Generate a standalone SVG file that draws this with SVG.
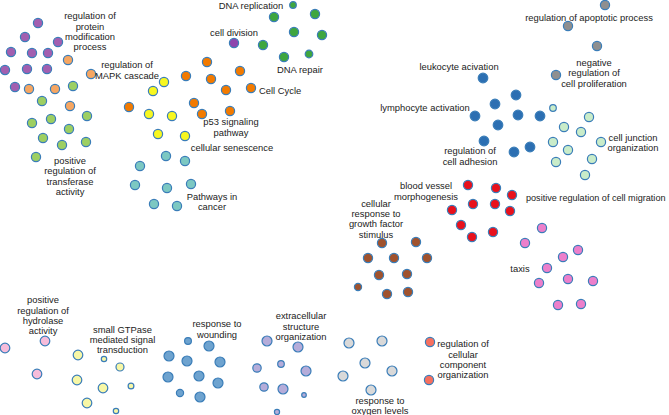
<svg xmlns="http://www.w3.org/2000/svg" width="669" height="415" viewBox="0 0 669 415">
<style>
circle{stroke:#3a7db8;stroke-width:1.2}
text{font-family:"Liberation Sans",Arial,sans-serif;font-size:9.4px;fill:#222;text-anchor:middle}
.l{text-anchor:start}
.purple{fill:#a25fb0}.sand{fill:#f6a662}.lgreen{fill:#9dcf62}.green{fill:#3fa63f}.cdiv{fill:#8e44ad}
.orange{fill:#f27a00}.yellow{fill:#f7f720}.teal{fill:#7cc8c2}.gray{fill:#8f8f8f}.blue{fill:#2c6fb2}
.pgreen{fill:#c9ecc9}.red{fill:#e8111c}.brown{fill:#a0522d}.pink{fill:#ec7fcb}.lpink{fill:#f6bcda}
.lyellow{fill:#f7f7a6}.sblue{fill:#6ea3cf}.lav{fill:#b5acd9}.lgray{fill:#d9d9d9}.salmon{fill:#f7705f}
</style>
<rect width="669" height="415" fill="#fff"/>
<g id="connectors"/>
<g id="protein-modification">
<circle class="purple" cx="38" cy="23" r="4.6"/><circle class="purple" cx="25" cy="37" r="4.6"/><circle class="purple" cx="58" cy="42" r="4.6"/><circle class="purple" cx="11" cy="52" r="4.6"/><circle class="purple" cx="32" cy="53" r="4.6"/><circle class="purple" cx="48" cy="53" r="4.6"/><circle class="purple" cx="5" cy="70" r="4.6"/><circle class="purple" cx="27" cy="69" r="4.6"/><circle class="purple" cx="47" cy="69" r="4.6"/><circle class="purple" cx="15" cy="87" r="4.6"/>
<text x="90" y="19.3">regulation of</text><text x="90" y="29.6">protein</text><text x="90" y="39.9">modification</text><text x="90" y="50.2">process</text>
</g>
<g id="mapk-cascade">
<circle class="sand" cx="68" cy="60" r="4.6"/><circle class="sand" cx="91" cy="74" r="4.6"/><circle class="sand" cx="29" cy="89" r="4.6"/><circle class="sand" cx="55" cy="89" r="4.6"/><circle class="sand" cx="70" cy="106" r="4.6"/>
<text x="127" y="68.3">regulation of</text><text x="127" y="78.6">MAPK cascade</text>
</g>
<g id="transferase-activity">
<circle class="lgreen" cx="73" cy="86" r="4.6"/><circle class="lgreen" cx="42" cy="101" r="4.6"/><circle class="lgreen" cx="32" cy="123" r="4.6"/><circle class="lgreen" cx="51" cy="119" r="4.6"/><circle class="lgreen" cx="87" cy="116" r="4.6"/><circle class="lgreen" cx="69" cy="129" r="4.6"/><circle class="lgreen" cx="43" cy="138" r="4.6"/><circle class="lgreen" cx="62" cy="145" r="4.6"/><circle class="lgreen" cx="86" cy="142" r="4.6"/><circle class="lgreen" cx="36" cy="157" r="4.6"/>
<text x="70" y="164">positive</text><text x="70" y="174.3">regulation of</text><text x="70" y="184.6">transferase</text><text x="70" y="194.9">activity</text>
</g>
<g id="dna-replication">
<circle class="green" cx="293" cy="5" r="3.3"/><circle class="green" cx="274" cy="17" r="4.6"/><circle class="green" cx="315" cy="14" r="4.6"/><circle class="green" cx="294" cy="32" r="4.6"/><circle class="green" cx="322" cy="35" r="4.6"/><circle class="green" cx="263" cy="45" r="4.6"/><circle class="green" cx="284" cy="57" r="4.6"/><circle class="green" cx="309" cy="54" r="3.8"/>
<text x="251" y="8.5">DNA replication</text><text x="300" y="73.3">DNA repair</text>
</g>
<g id="cell-division">
<circle class="cdiv" cx="234" cy="43" r="4.6"/>
<text x="234" y="35.6">cell division</text>
</g>
<g id="cell-cycle">
<circle class="orange" cx="207" cy="62" r="4.6"/><circle class="orange" cx="240" cy="71" r="4.6"/><circle class="orange" cx="186" cy="76" r="4.6"/><circle class="orange" cx="211" cy="79" r="4.6"/><circle class="orange" cx="226" cy="90" r="4.6"/><circle class="orange" cx="251" cy="88" r="4.6"/><circle class="orange" cx="129" cy="107" r="4.6"/><circle class="orange" cx="194" cy="103" r="4.6"/><circle class="orange" cx="202" cy="114" r="4.6"/><circle class="orange" cx="230" cy="111" r="4.6"/>
<text class="l" x="259" y="94.3">Cell Cycle</text>
<text x="231" y="125.3">p53 signaling</text><text x="231" y="135.6">pathway</text>
</g>
<g id="cellular-senescence">
<circle class="yellow" cx="164" cy="82" r="4.6"/><circle class="yellow" cx="153" cy="91" r="4.6"/><circle class="yellow" cx="149" cy="114" r="4.6"/><circle class="yellow" cx="172" cy="116" r="4.6"/><circle class="yellow" cx="158" cy="134" r="4.6"/><circle class="yellow" cx="185" cy="136" r="4.6"/>
<text x="232" y="150.8">cellular senescence</text>
</g>
<g id="pathways-in-cancer">
<circle class="teal" cx="166" cy="156" r="4.6"/><circle class="teal" cx="185" cy="161" r="4.6"/><circle class="teal" cx="140" cy="166" r="4.6"/><circle class="teal" cx="135" cy="185" r="4.6"/><circle class="teal" cx="167" cy="188" r="4.6"/><circle class="teal" cx="191" cy="184" r="4.6"/><circle class="teal" cx="154" cy="204" r="4.6"/><circle class="teal" cx="177" cy="206" r="4.6"/>
<text x="212" y="200">Pathways in</text><text x="212" y="210.3">cancer</text>
</g>
<g id="apoptotic-process">
<circle class="gray" cx="605" cy="5" r="4.6"/><circle class="gray" cx="568" cy="26" r="4.6"/><circle class="gray" cx="597" cy="46" r="4.6"/><circle class="gray" cx="556" cy="75" r="4.6"/>
<text x="589" y="20.6">regulation of apoptotic process</text>
<text x="594" y="66">negative</text><text x="594" y="76.3">regulation of</text><text x="594" y="86.6">cell proliferation</text>
</g>
<g id="leukocyte-activation">
<circle class="blue" cx="483" cy="78" r="4.8"/><circle class="blue" cx="516" cy="95" r="4.8"/><circle class="blue" cx="495" cy="104" r="4.8"/><circle class="blue" cx="475" cy="116" r="4.8"/><circle class="blue" cx="518" cy="115" r="4.8"/><circle class="blue" cx="540" cy="116" r="4.8"/><circle class="blue" cx="498" cy="125" r="4.8"/><circle class="blue" cx="484" cy="141" r="4.8"/><circle class="blue" cx="530" cy="147" r="4.8"/><circle class="blue" cx="514" cy="152" r="4.8"/>
<text x="459" y="70">leukocyte acivation</text><text x="425" y="110.6">lymphocyte activation</text>
<text x="470" y="154.3">regulation of</text><text x="470" y="164.6">cell adhesion</text>
</g>
<g id="cell-junction">
<circle class="pgreen" cx="553" cy="108" r="3.3"/><circle class="pgreen" cx="589" cy="117" r="4.6"/><circle class="pgreen" cx="564" cy="127" r="4.6"/><circle class="pgreen" cx="581" cy="132" r="4.6"/><circle class="pgreen" cx="553" cy="142" r="4.6"/><circle class="pgreen" cx="601" cy="142" r="4.6"/><circle class="pgreen" cx="568" cy="150" r="4.6"/><circle class="pgreen" cx="556" cy="162" r="4.6"/><circle class="pgreen" cx="592" cy="159" r="4.6"/><circle class="pgreen" cx="585" cy="175" r="4.6"/>
<text x="633" y="140.6">cell junction</text><text x="633" y="150.9">organization</text>
</g>
<g id="blood-vessel">
<circle class="red" cx="468" cy="185" r="4.6"/><circle class="red" cx="496" cy="188" r="4.6"/><circle class="red" cx="512" cy="195" r="4.6"/><circle class="red" cx="473" cy="204" r="4.6"/><circle class="red" cx="495" cy="204" r="4.6"/><circle class="red" cx="510" cy="211" r="4.6"/><circle class="red" cx="452" cy="210" r="4.6"/><circle class="red" cx="461" cy="225" r="4.6"/><circle class="red" cx="472" cy="237" r="4.6"/><circle class="red" cx="493" cy="232" r="4.6"/>
<text x="426" y="189.3">blood vessel</text><text x="426" y="199.6">morphogenesis</text>
<text class="l" x="526" y="201" style="font-size:9.1px">positive regulation of cell migration</text>
</g>
<g id="growth-factor">
<circle class="brown" cx="382" cy="243" r="4.6"/><circle class="brown" cx="416" cy="242" r="4.6"/><circle class="brown" cx="368" cy="258" r="4.6"/><circle class="brown" cx="394" cy="258" r="4.6"/><circle class="brown" cx="427" cy="258" r="4.6"/><circle class="brown" cx="379" cy="275" r="4.6"/><circle class="brown" cx="407" cy="274" r="4.6"/><circle class="brown" cx="358" cy="287" r="3.6"/><circle class="brown" cx="387" cy="294" r="4.6"/><circle class="brown" cx="408" cy="292" r="4.6"/>
<text x="376" y="206.6">cellular</text><text x="376" y="216.9">response to</text><text x="376" y="227.2">growth factor</text><text x="376" y="237.5">stimulus</text>
</g>
<g id="taxis">
<circle class="pink" cx="542" cy="228" r="4.6"/><circle class="pink" cx="525" cy="243" r="4.6"/><circle class="pink" cx="578" cy="250" r="4.6"/><circle class="pink" cx="563" cy="257" r="4.6"/><circle class="pink" cx="547" cy="268" r="4.6"/><circle class="pink" cx="568" cy="279" r="4.6"/><circle class="pink" cx="593" cy="281" r="4.6"/><circle class="pink" cx="539" cy="283" r="4.6"/><circle class="pink" cx="558" cy="305" r="4.6"/><circle class="pink" cx="581" cy="304" r="4.6"/>
<text x="520" y="271.6">taxis</text>
</g>
<g id="hydrolase-activity">
<circle class="lpink" cx="5" cy="348" r="4.8"/><circle class="lpink" cx="45" cy="341" r="4.8"/><circle class="lpink" cx="37" cy="374" r="4.8"/>
<text x="43" y="303.3">positive</text><text x="43" y="313.6">regulation of</text><text x="43" y="323.9">hydrolase</text><text x="43" y="334.2">activity</text>
</g>
<g id="small-gtpase">
<circle class="lyellow" cx="78" cy="355" r="4.8"/><circle class="lyellow" cx="104" cy="359" r="2.7"/><circle class="lyellow" cx="120" cy="367" r="4"/><circle class="lyellow" cx="77" cy="380" r="4.8"/><circle class="lyellow" cx="103" cy="388" r="4.8"/><circle class="lyellow" cx="131" cy="386" r="2.9"/><circle class="lyellow" cx="87" cy="403" r="4.8"/><circle class="lyellow" cx="116" cy="411" r="2.7"/>
<text x="122.5" y="332.6">small GTPase</text><text x="122.5" y="342.9">mediated signal</text><text x="122.5" y="353.2">transduction</text>
</g>
<g id="response-to-wounding">
<circle class="sblue" cx="188" cy="341" r="3.4"/><circle class="sblue" cx="209" cy="346" r="5"/><circle class="sblue" cx="169" cy="356" r="5"/><circle class="sblue" cx="187" cy="361" r="5"/><circle class="sblue" cx="220" cy="362" r="5"/><circle class="sblue" cx="168" cy="377" r="5"/><circle class="sblue" cx="199" cy="376" r="5"/><circle class="sblue" cx="218" cy="383" r="5"/><circle class="sblue" cx="180" cy="393" r="3.6"/><circle class="sblue" cx="200" cy="397" r="5"/>
<text x="217" y="327.3">response to</text><text x="217" y="337.6">wounding</text>
</g>
<g id="extracellular-structure">
<circle class="lav" cx="267" cy="341" r="5"/><circle class="lav" cx="298" cy="347" r="5"/><circle class="lav" cx="257" cy="368" r="4.2"/><circle class="lav" cx="281" cy="364" r="3.3"/><circle class="lav" cx="306" cy="371" r="5"/><circle class="lav" cx="264" cy="387" r="4.2"/><circle class="lav" cx="283" cy="389" r="5"/><circle class="lav" cx="304" cy="395" r="2.3"/><circle class="lav" cx="277" cy="412" r="2.6"/>
<text x="301" y="319.3">extracellular</text><text x="301" y="329.6">structure</text><text x="301" y="339.9">organization</text>
</g>
<g id="oxygen-levels">
<circle class="lgray" cx="349" cy="343" r="5"/><circle class="lgray" cx="382" cy="341" r="5"/><circle class="lgray" cx="365" cy="363" r="5"/><circle class="lgray" cx="392" cy="371" r="5"/><circle class="lgray" cx="343" cy="376" r="5"/><circle class="lgray" cx="371" cy="390" r="5"/>
<text x="380" y="404">response to</text><text x="380" y="414.3">oxygen levels</text>
</g>
<g id="cellular-component">
<circle class="salmon" cx="430" cy="342" r="4.6"/><circle class="salmon" cx="429" cy="380" r="4.6"/>
<text x="463" y="347.3">regulation of</text><text x="463" y="357.6">cellular</text><text x="463" y="367.9">component</text><text x="463" y="378.2">organization</text>
</g>
</svg>
